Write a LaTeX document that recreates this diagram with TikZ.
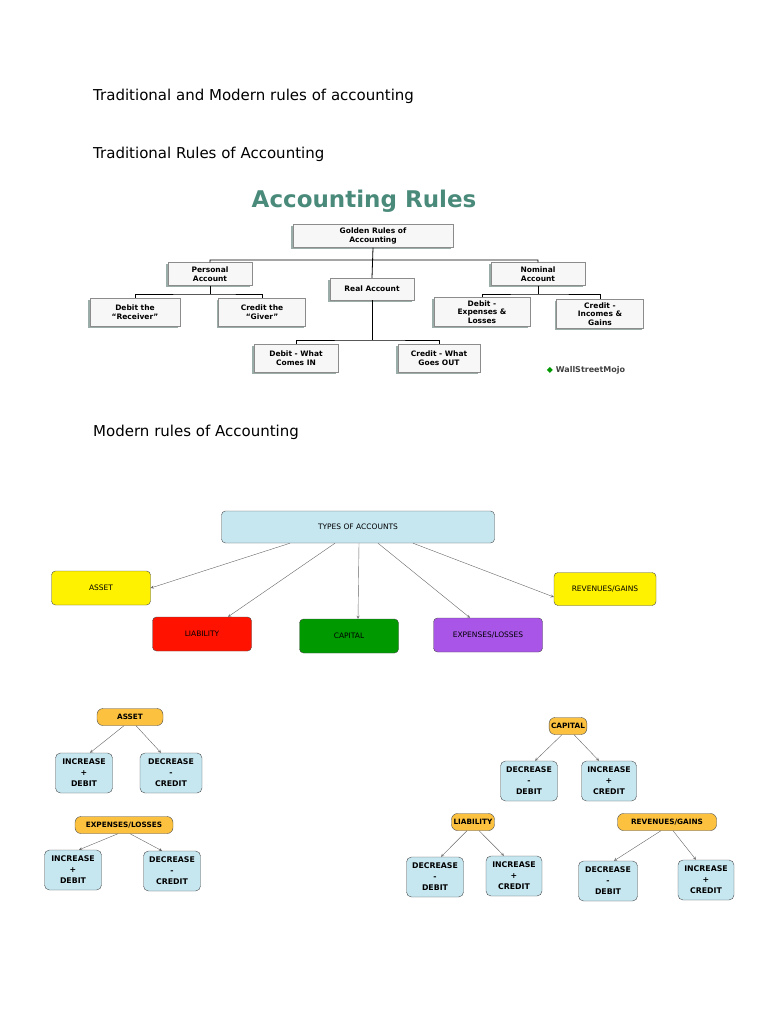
\documentclass[tikz,border=0pt]{standalone}
\usepackage{fontspec}
\setmainfont{DejaVu Sans}
\usetikzlibrary{shadows}
\definecolor{teal1}{HTML}{4A8A7A}
\definecolor{sky}{HTML}{C6E6F0}
\definecolor{gold}{HTML}{FBC13F}
\definecolor{purp}{HTML}{A855E8}
\begin{document}
\begin{tikzpicture}[x=1pt,y=-1pt,
  gray/.style={draw=black!45, fill=black!3, drop shadow={shadow xshift=-2pt,shadow yshift=-1.5pt,fill=teal1!60!black!60,opacity=.8}, font=\fontsize{7.5}{8.5}\selectfont\bfseries, align=center, inner sep=1pt},
  big/.style={draw=black!70, rounded corners=4pt, font=\fontsize{7.5}{9}\selectfont, minimum height=34pt, minimum width=99pt},
  pill/.style={draw=black!70, fill=gold, rounded corners=6pt, font=\fontsize{7.3}{8}\selectfont\bfseries, minimum height=17pt, inner xsep=2pt},
  leaf/.style={draw=black!70, fill=sky, rounded corners=5pt, font=\fontsize{7.8}{11}\selectfont\bfseries, align=center, minimum height=40pt, minimum width=57pt, inner sep=1pt},
  ar/.style={->, >=stealth, black!60, thin},
  txt/.style={anchor=west, inner sep=0pt, font=\fontsize{15}{17}\selectfont}]
\useasboundingbox (0,0) rectangle (768,1024);
% page text
\node[txt] (t1) at (93,96) {Traditional and Modern rules of accounting};
\node[txt] (t2) at (93,154) {Traditional Rules of Accounting};
\node[txt] (t3) at (93,432) {Modern rules of Accounting};
% traditional chart
\node[text=teal1, font=\fontsize{23}{25}\selectfont\bfseries] (head) at (364,201) {Accounting Rules};
\node[gray, minimum width=160pt, minimum height=23pt] (gold) at (373,236) {Golden Rules of\\Accounting};
\node[gray, minimum width=84pt, minimum height=23pt] (pers) at (210,274) {Personal\\Account};
\node[gray, minimum width=84pt, minimum height=22pt] (real) at (372,289) {Real Account};
\node[gray, minimum width=94pt, minimum height=23pt] (nom) at (538,274) {Nominal\\Account};
\node[gray, minimum width=90pt, minimum height=28pt] (recv) at (135,312) {Debit the\\“Receiver”};
\node[gray, minimum width=87pt, minimum height=28pt] (givr) at (262,312) {Credit the\\“Giver”};
\node[gray, minimum width=96pt, minimum height=29pt] (exps) at (482,312) {Debit -\\Expenses \&\\Losses};
\node[gray, minimum width=87pt, minimum height=29pt] (incs) at (600,314) {Credit -\\Incomes \&\\Gains};
\node[gray, minimum width=84pt, minimum height=28pt] (cin) at (296,358) {Debit - What\\Comes IN};
\node[gray, minimum width=82pt, minimum height=28pt] (cout) at (439,358) {Credit - What\\Goes OUT};
\node[font=\fontsize{8}{9}\selectfont\bfseries, text=black!75] (wsm) at (586,370) {\textcolor{green!60!black}{◆} WallStreetMojo};
\draw[thick] (gold.south) -- (real.north) (pers.north) |- (370,260) -| (nom.north);
\draw[thick] (real.south) -- (372,340) (cin.north) |- (372,340) -| (cout.north);
\draw[thick] (pers.south) -- (210,294) (recv.north) |- (210,294) -| (givr.north);
\draw[thick] (nom.south) -- (538,294) (exps.north) |- (538,294) -| (incs.north);
% modern chart
\node[big, fill=sky, minimum width=273pt, minimum height=32pt] (types) at (358,527) {TYPES OF ACCOUNTS};
\node[big, fill=yellow] (asset) at (101,588) {ASSET};
\node[big, fill=red!85!orange] (liab) at (202,634) {LIABILITY};
\node[big, fill=green!60!black] (cap) at (349,636) {CAPITAL};
\node[big, fill=purp, minimum width=109pt] (expn) at (488,635) {EXPENSES/LOSSES};
\node[big, fill=yellow, minimum width=102pt, minimum height=33pt] (rev) at (605,589) {REVENUES/GAINS};
\draw[ar] ([xshift=-68pt]types.south) -- (asset.east);
\draw[ar] ([xshift=-23pt]types.south) -- ([xshift=26pt]liab.north);
\draw[ar] ([xshift=1pt]types.south) -- ([xshift=9pt]cap.north);
\draw[ar] ([xshift=20pt]types.south) -- ([xshift=-18pt]expn.north);
\draw[ar] ([xshift=55pt]types.south) -- ([yshift=-8pt]rev.west);
% bottom trees
\node[pill, minimum width=66pt] (pa) at (130,717) {ASSET};
\node[leaf] (pa1) at (84,773) {INCREASE\\+\\DEBIT};
\node[leaf, minimum width=62pt] (pa2) at (171,773) {DECREASE\\-\\CREDIT};
\node[pill, minimum width=98pt] (pe) at (124,825) {EXPENSES/LOSSES};
\node[leaf] (pe1) at (73,870) {INCREASE\\+\\DEBIT};
\node[leaf] (pe2) at (172,871) {DECREASE\\-\\CREDIT};
\node[pill] (pc) at (568,726) {CAPITAL};
\node[leaf] (pc1) at (529,781) {DECREASE\\-\\DEBIT};
\node[leaf, minimum width=55pt] (pc2) at (609,781) {INCREASE\\+\\CREDIT};
\node[pill] (pl) at (473,822) {LIABILITY};
\node[leaf] (pl1) at (435,877) {DECREASE\\-\\DEBIT};
\node[leaf, minimum width=56pt] (pl2) at (514,876) {INCREASE\\+\\CREDIT};
\node[pill, minimum width=99pt] (pr) at (667,822) {REVENUES/GAINS};
\node[leaf, minimum width=59pt] (pr1) at (608,881) {DECREASE\\-\\DEBIT};
\node[leaf, minimum width=56pt] (pr2) at (706,880) {INCREASE\\+\\CREDIT};
\foreach \p in {pa,pe,pc,pl,pr} {
  \draw[ar] ([xshift=-6pt]\p.south) -- ([xshift=6pt]\p1.north);
  \draw[ar] ([xshift=6pt]\p.south) -- ([xshift=-10pt]\p2.north);
}
\end{tikzpicture}
\end{document}
